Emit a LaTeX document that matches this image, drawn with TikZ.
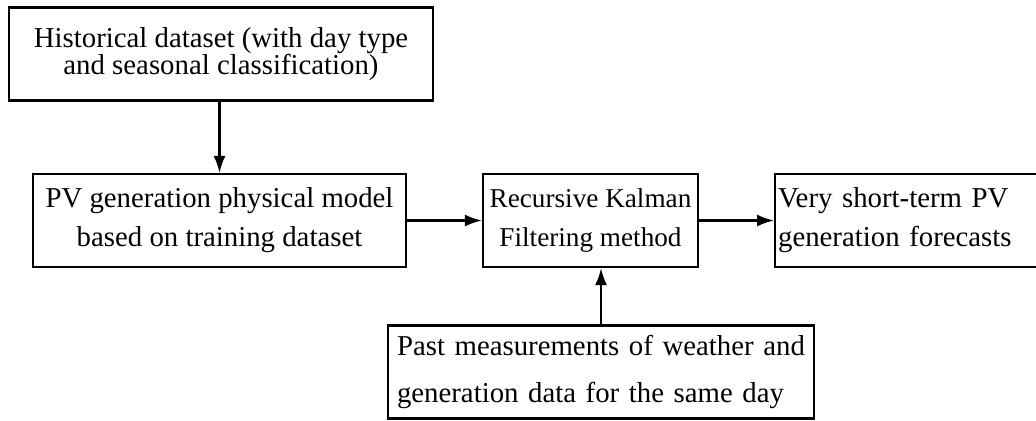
\documentclass[tikz,border=0pt]{standalone}
\usepackage{fontspec}
\setmainfont{Liberation Serif}
\usetikzlibrary{arrows.meta}
\begin{document}
\begin{tikzpicture}[x=0.5pt,y=-0.5pt,
  box/.style={draw, line width=1.1pt, inner sep=0pt, minimum height=46.5pt},
  flow/.style={line width=1.1pt, -{Latex[length=8.5pt,width=6pt]}}]
\useasboundingbox (0,0) rectangle (1036,420);
% input data
\node[box, minimum width=212pt, align=center, font={\fontsize{14.4}{13.5}\selectfont}]
  (hist) at (221,54) {Historical dataset (with day type\\and seasonal classification)};
% physical model
\node[box, minimum width=186.5pt, align=center, font={\fontsize{14.4}{19.5}\selectfont}]
  (model) at (219.5,220.5) {PV generation physical model\\based on training dataset};
% Kalman filter
\node[box, minimum width=107.5pt, align=center, font={\fontsize{13.6}{19.5}\selectfont}]
  (kalman) at (590.5,220.5) {Recursive Kalman\\Filtering method};
% forecasts
\node[box, anchor=west, inner xsep=1.5pt, text width=142pt, align=left, font={\fontsize{14.4}{19.5}\selectfont}]
  (fcst) at (774,220.5) {Very short-term PV\\generation forecasts};
% measurements
\node[box, inner xsep=4.5pt, text width=204pt, align=left, font={\fontsize{14.4}{23.5}\selectfont}]
  (meas) at (601,372) {Past measurements of weather and\\generation data for the same day};
% connectors
\draw[flow] (model.north |- hist.south) -- (model.north);
\draw[flow] (model.east) -- (kalman.west);
\draw[flow] (kalman.east) -- (fcst.west);
\draw[flow] (meas.north) -- (meas.north |- kalman.south);
\end{tikzpicture}
\end{document}
